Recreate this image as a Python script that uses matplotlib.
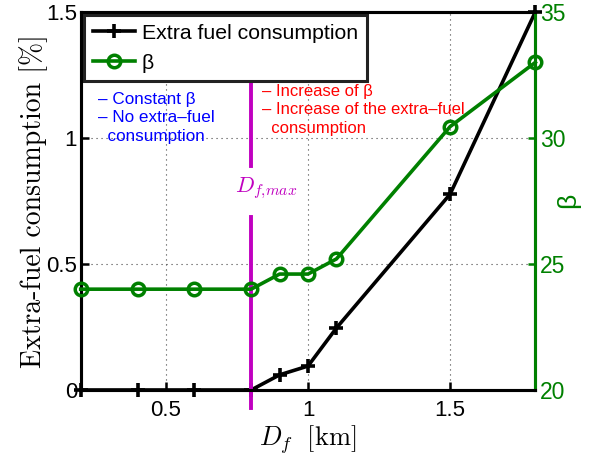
import matplotlib
matplotlib.use("Agg")
import matplotlib.pyplot as plt

plt.rcParams['font.family'] = ['Liberation Sans', 'DejaVu Sans']
plt.rcParams['mathtext.fontset'] = 'cm'

df = [0.2, 0.4, 0.6, 0.8, 0.9, 1.0, 1.1, 1.5, 1.8]
extra_fuel = [0.0, 0.0, 0.0, 0.0, 0.06, 0.095, 0.246, 0.777, 1.5]
beta = [24.0, 24.0, 24.0, 24.0, 24.6, 24.6, 25.2, 30.45, 33.0]
xticks = [0.5, 1.0, 1.5]
xticklabels = ['0.5', '1', '1.5']
yticks_left = [0, 0.5, 1.0, 1.5]
yticklabels_left = ['0', '0.5', '1', '1.5']
yticks_right = [20, 25, 30, 35]
df_max = 0.8

green = '#008000'
magenta = '#c000c0'

fig = plt.figure(figsize=(5.96, 4.55), dpi=100)
ax = fig.add_axes([0.1354, 0.1429, 0.7628, 0.8308])
ax2 = ax.twinx()

ax.set_xlim(0.2, 1.8)
ax.set_ylim(0, 1.5)
ax2.set_ylim(20, 35)

ax.grid(True, linestyle=(0, (1, 3.5)), color='#444444', linewidth=0.8)

l1, = ax.plot(df, extra_fuel, color='black', lw=2.6, marker='+', ms=10, mew=2.6,
              label='Extra fuel consumption', clip_on=False, zorder=3)
l2, = ax2.plot(df, beta, color=green, lw=2.6, marker='o', ms=9, mew=2.5,
               mfc='none', label='β', clip_on=False, zorder=3)

# D_f,max line (with gap for the label)
ax.plot([df_max, df_max], [-0.071, 0.687], color=magenta, lw=2.8, zorder=4, clip_on=False)
ax.plot([df_max, df_max], [0.889, 1.286], color=magenta, lw=2.8, zorder=4)
ax.text(0.743, 0.80, r'$D_{f{,}max}$', color=magenta, fontsize=16,
        ha='left', va='center', zorder=5)

ax.text(0.261, 1.183, '– Constant β\n– No extra–fuel\n  consumption', color='blue',
        fontsize=12.3, va='top', ha='left', linespacing=1.3)
ax.text(0.838, 1.215, '– Increase of β\n– Increase of the extra–fuel\n  consumption', color='red',
        fontsize=12, va='top', ha='left', linespacing=1.28)

ax.set_xticks(xticks)
ax.set_xticklabels(xticklabels)
ax.set_yticks(yticks_left)
ax.set_yticklabels(yticklabels_left)
ax2.set_yticks(yticks_right)

ax.tick_params(axis='x', direction='in', labelsize=16, width=1.8, length=6, pad=7)
ax.tick_params(axis='y', direction='in', labelsize=16, width=1.8, length=6, pad=2.5)
ax2.tick_params(direction='in', labelsize=16.5, width=1.8, length=5, colors=green, pad=3.5)

for s in ax.spines.values():
    s.set_linewidth(2.2)
for s in ax2.spines.values():
    s.set_linewidth(2.2)
ax2.spines['right'].set_color(green)

ax.set_ylabel('Extra-fuel consumption [%]', family='cmr10', fontsize=20, labelpad=-1)
ax.set_xlabel(r'$D_f\ \ \mathrm{[km]}$', fontsize=19, labelpad=2)
fig.text(568 / 596, 1 - 200 / 455, 'β', color=green, fontsize=19, rotation=90,
         ha='center', va='center')

leg = ax.legend(handles=[l1, l2], loc='upper left', fontsize=15.3, frameon=True,
                fancybox=False, edgecolor='#222222', framealpha=1,
                bbox_to_anchor=(84 / 596, 1 - 15 / 455), bbox_transform=fig.transFigure,
                borderaxespad=0, handlelength=2.0, handletextpad=0.3,
                borderpad=0.42, labelspacing=0.5)
leg.get_frame().set_linewidth(2.2)
leg.set_zorder(10)

fig.savefig('out.png', dpi=100)
